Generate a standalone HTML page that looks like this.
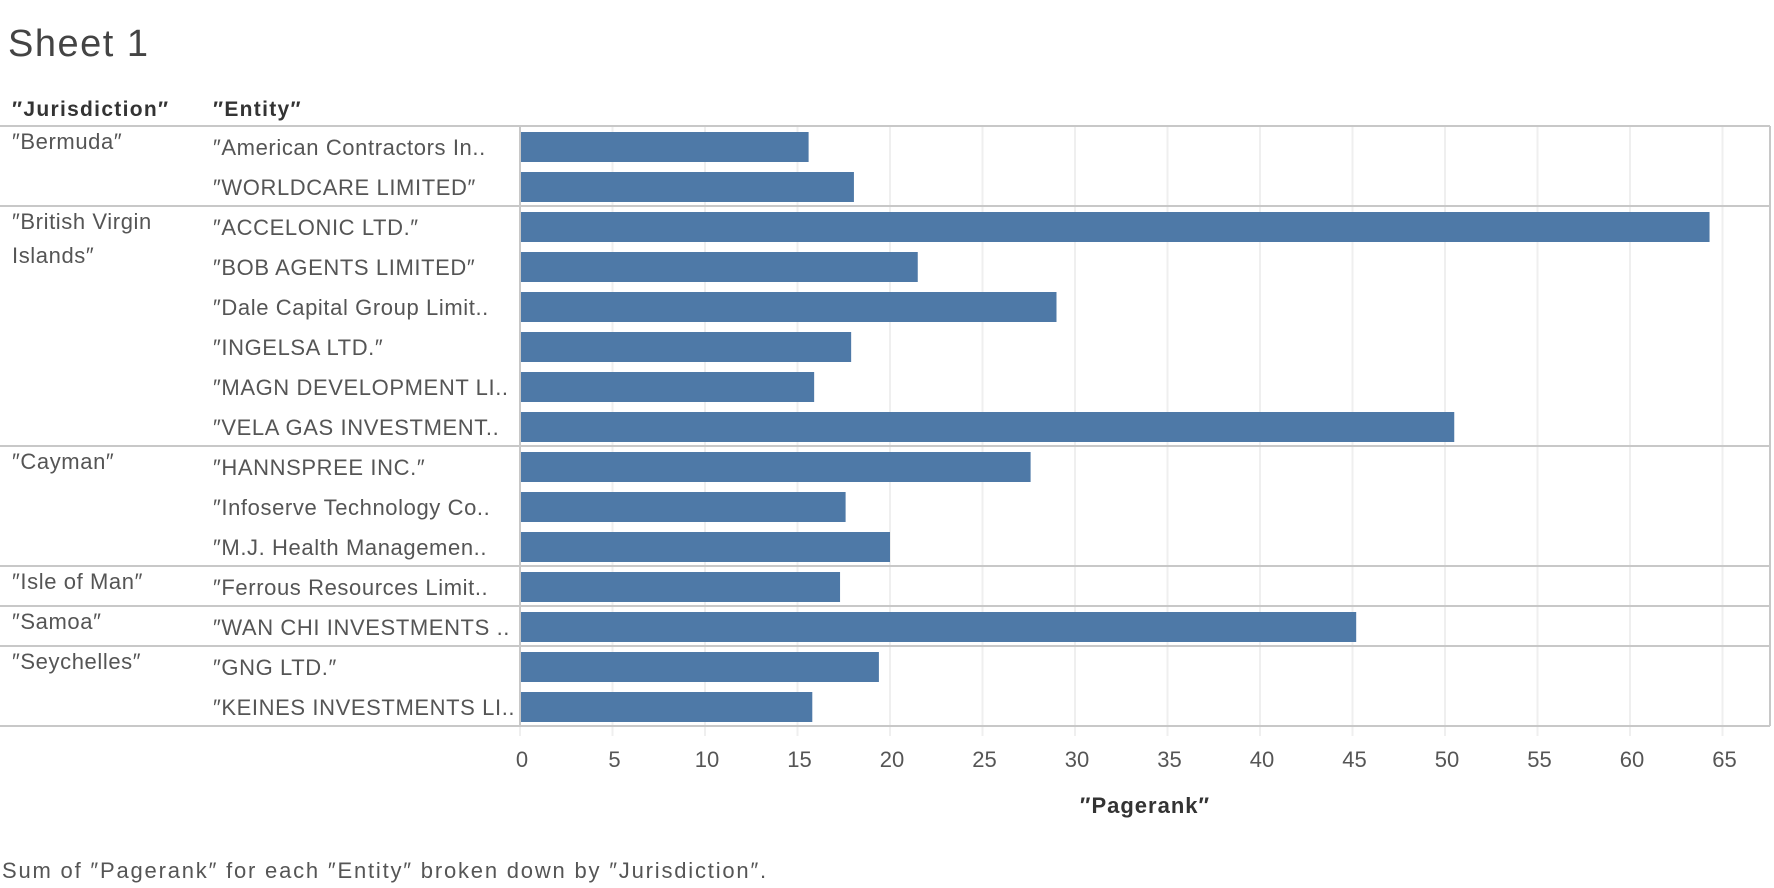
<!DOCTYPE html>
<html><head><meta charset="utf-8"><style>
body{margin:0;background:#fff;}
svg{display:block;font-family:"Liberation Sans",sans-serif;}
</style></head><body>
<svg id="chart" width="1774" height="888" viewBox="0 0 1774 888">
<text x="8" y="56" font-size="38" fill="#444" letter-spacing="1.5">Sheet 1</text>
<text x="12" y="116" font-size="21" font-weight="bold" fill="#333" letter-spacing="1.3">″Jurisdiction″</text>
<text x="213" y="116" font-size="21" font-weight="bold" fill="#333" letter-spacing="1.3">″Entity″</text>
<g id="grid"></g><g id="bars"></g><g id="labels"></g><g id="axis"></g>
<text x="1145" y="813" font-size="22" font-weight="bold" fill="#333" text-anchor="middle" letter-spacing="1">″Pagerank″</text>
<text x="2" y="878" font-size="22" fill="#555" letter-spacing="1.8">Sum of ″Pagerank″ for each ″Entity″ broken down by ″Jurisdiction″.</text>
</svg>
<script>
const jurisdictions = ["″Bermuda″","","″British Virgin|Islands″","","","","","","″Cayman″","","","″Isle of Man″","″Samoa″","″Seychelles″",""];
const entities = ["″American Contractors In..","″WORLDCARE LIMITED″","″ACCELONIC LTD.″","″BOB AGENTS LIMITED″","″Dale Capital Group Limit..","″INGELSA LTD.″","″MAGN DEVELOPMENT LI..","″VELA GAS INVESTMENT..","″HANNSPREE INC.″","″Infoserve Technology Co..","″M.J. Health Managemen..","″Ferrous Resources Limit..","″WAN CHI INVESTMENTS ..","″GNG LTD.″","″KEINES INVESTMENTS LI.."];
const pagerank = [15.6,18.05,64.3,21.5,29.0,17.9,15.9,50.5,27.6,17.6,20.0,17.3,45.2,19.4,15.8];
const ticks = [0,5,10,15,20,25,30,35,40,45,50,55,60,65];
const groupStarts = [0,2,8,11,12,13];

const NS="http://www.w3.org/2000/svg";
const X0=520, UNIT=18.5, TOP=126, ROW=40, RIGHT=1770;
const xs=v=>X0+v*UNIT;
const ys=i=>TOP+i*ROW;
const BOTTOM=ys(entities.length);
function mk(tag,attrs,parent){const e=document.createElementNS(NS,tag);for(const k in attrs)e.setAttribute(k,attrs[k]);parent.appendChild(e);return e;}
const grid=document.getElementById('grid'),bars=document.getElementById('bars'),labels=document.getElementById('labels'),axis=document.getElementById('axis');
ticks.forEach(t=>{
  const l=mk('line',{x1:xs(t),x2:xs(t),y1:TOP,y2:BOTTOM+10,stroke:'#efefef','stroke-width':2},grid);
  
  
  const tx=mk('text',{x:xs(t)+2,y:767,'font-size':22,fill:'#555','text-anchor':'middle'},axis);
  tx.textContent=t;
  
  
});
groupStarts.concat([entities.length]).forEach(g=>{
  const l=mk('line',{x1:0,x2:RIGHT,y1:ys(g),y2:ys(g),stroke:'#c8c8c8','stroke-width':2},grid);
  
  
});
[X0,RIGHT].forEach(x=>{
  const l=mk('line',{x1:x,x2:x,y1:TOP,y2:BOTTOM,stroke:'#c8c8c8','stroke-width':2},grid);
  
  
});
pagerank.forEach((v,i)=>{
  const r=mk('rect',{x:xs(0)+1,y:ys(i)+6,width:xs(v)-xs(0)-1,height:ROW-10,fill:'#4e79a7'},bars);
  
  
  const t=mk('text',{x:213,y:ys(i)+29,'font-size':22,fill:'#555','letter-spacing':0.6},labels);
  t.textContent=entities[i];
  
  
  if(jurisdictions[i]){
    jurisdictions[i].split('|').forEach((p,k)=>{
      const j=mk('text',{x:12,y:ys(i)+23+k*34,'font-size':22,fill:'#555','letter-spacing':0.6},labels);
      j.textContent=p;
      
      
    });
  }
});
</script>
</body></html>
